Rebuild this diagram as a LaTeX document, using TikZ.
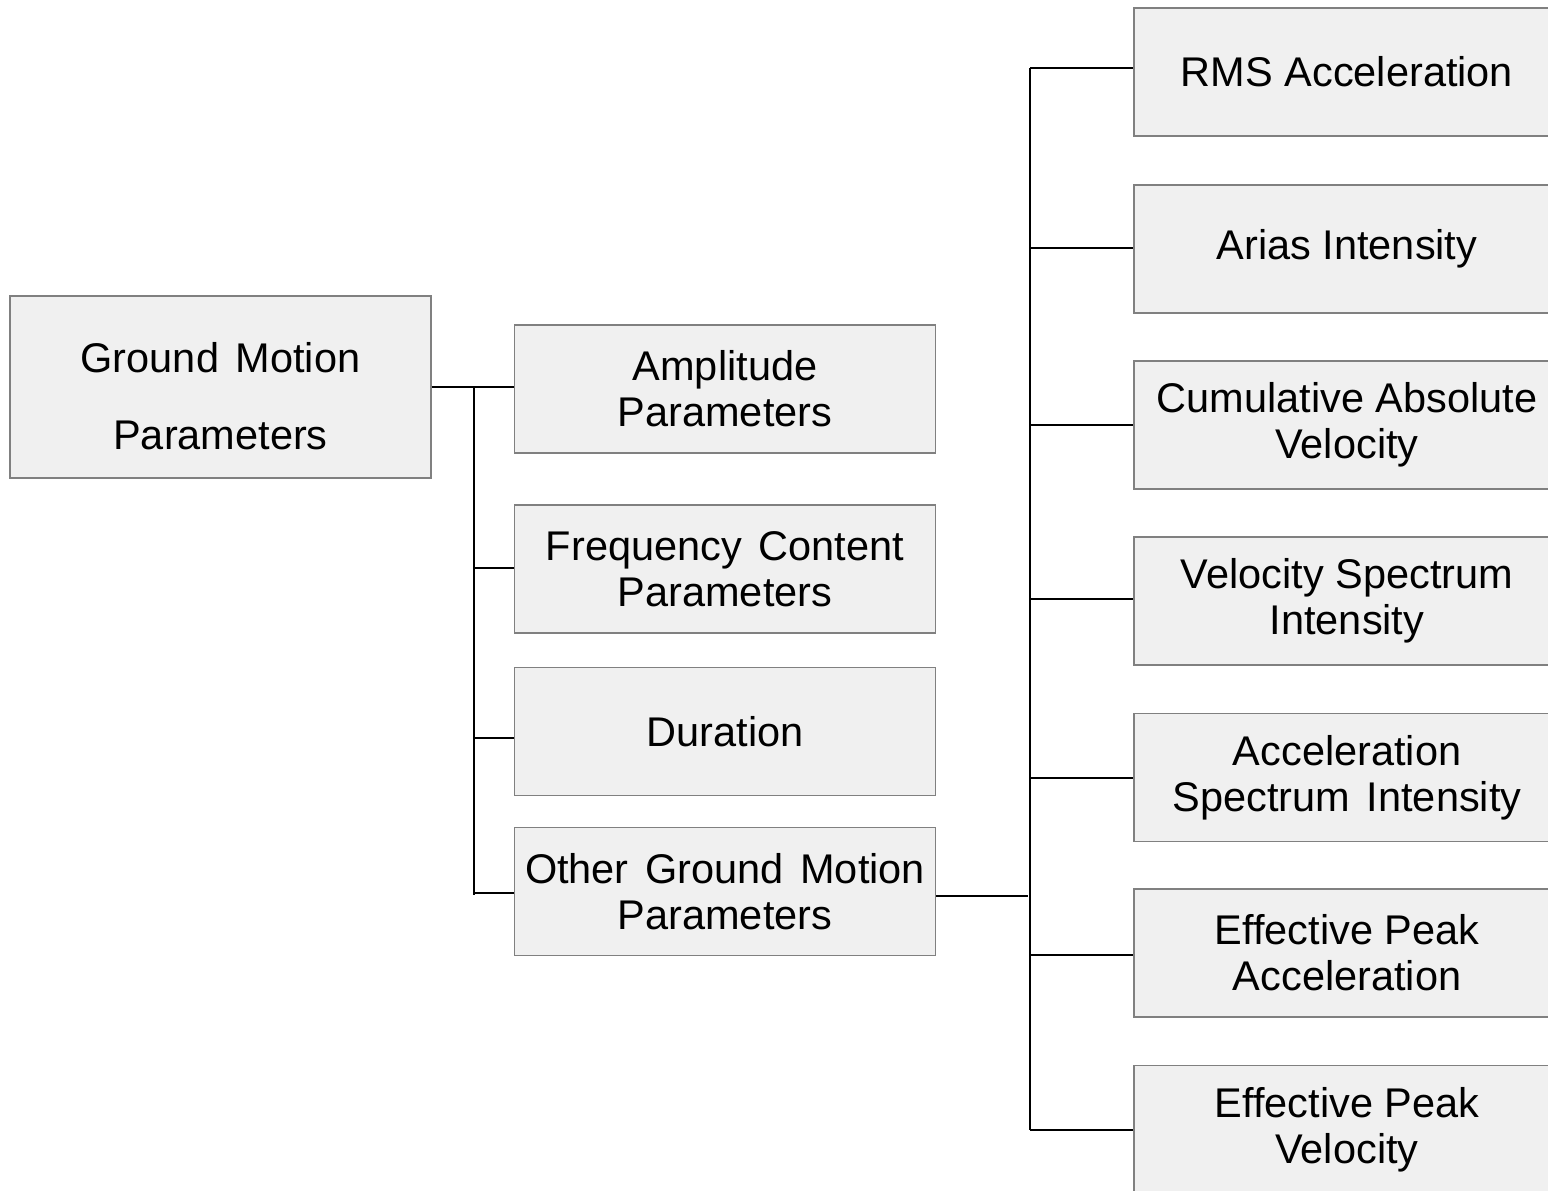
\documentclass[tikz,border=0pt]{standalone}
\usepackage{fontspec}
\setmainfont{Liberation Sans}
\newcommand\wsp{\hspace{0.4em}}
\begin{document}
\begin{tikzpicture}[x=1pt,y=-1pt,
  box/.style={draw=black!50, line width=1.3pt, fill=black!6, rectangle, inner sep=0pt,
    align=center, font=\fontsize{41.5}{46}\selectfont},
  lbox/.style={box, minimum width=421pt, minimum height=128pt},
  rbox/.style={box, minimum width=426pt, minimum height=128pt},
  txt/.style={inner sep=0pt, align=center, font=\fontsize{41.5}{46}\selectfont},
  conn/.style={draw=black, line width=1.5pt}]
\useasboundingbox (0,0) rectangle (1548,1191);
\clip (0,0) rectangle (1548,1191);
\node[box, minimum width=421pt, minimum height=182pt] (gmp) at (220.5,387) {};
\node[txt] (gmpt) at (220.5,396) {Ground\wsp Motion\\[31pt]Parameters};
\node[lbox] (amp) at (725,389) {Amplitude\\Parameters};
\node[lbox] (freq) at (725,569) {Frequency\wsp Content\\Parameters};
\node[lbox] (dur) at (725,731.5) {Duration};
\node[lbox] (oth) at (725,891.5) {Other\wsp Ground\wsp Motion\\Parameters};
\node[rbox] (rms) at (1347,72) {RMS Acceleration};
\node[rbox] (ari) at (1347,249) {Arias Intensity};
\node[rbox] (cav) at (1347,425) {Cumulative Absolute\\Velocity};
\node[rbox] (vsi) at (1347,601) {Velocity Spectrum\\Intensity};
\node[rbox] (asi) at (1347,777.5) {Acceleration\\Spectrum\wsp Intensity};
\node[rbox] (epa) at (1347,953) {Effective Peak\\Acceleration};
\node[rbox] (epv) at (1347,1129.5) {Effective Peak\\Velocity};
% left tree
\coordinate (lb) at (474,387);
\coordinate (lbe) at (474,895);
\draw[conn] (gmp.east) -- (gmp.east -| amp.west);
\draw[conn] (lb) -- (lbe);
\draw[conn] (474,568) coordinate (f1) -- (f1 -| freq.west);
\draw[conn] (474,738) coordinate (d1) -- (d1 -| dur.west);
\draw[conn] (474,893) coordinate (o1) -- (o1 -| oth.west);
% right tree
\coordinate (rt) at (1030,68);
\coordinate (rb) at (1030,1130);
\draw[conn] (oth.east |- 0,896) -- (1028,896) coordinate (oe);
\draw[conn] (rt) -- (rb);
\draw[conn] (rt) -- (rt -| rms.west);
\draw[conn] (1030,248) coordinate (r2) -- (r2 -| ari.west);
\draw[conn] (1030,425) coordinate (r3) -- (r3 -| cav.west);
\draw[conn] (1030,599) coordinate (r4) -- (r4 -| vsi.west);
\draw[conn] (1030,778) coordinate (r5) -- (r5 -| asi.west);
\draw[conn] (1030,955) coordinate (r6) -- (r6 -| epa.west);
\draw[conn] (rb) -- (rb -| epv.west);
\end{tikzpicture}
\end{document}
